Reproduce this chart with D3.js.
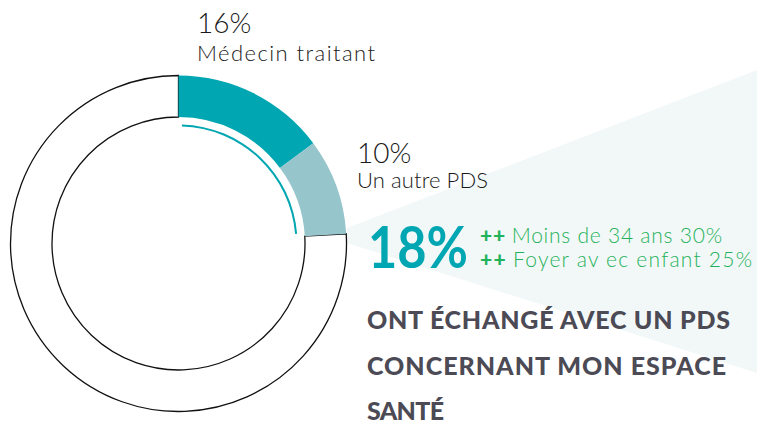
<!DOCTYPE html>
<html>
<head>
<meta charset="utf-8">
<script src="https://cdn.jsdelivr.net/npm/d3@7"></script>
<style>
  html, body { margin: 0; padding: 0; background: #fff; }
  svg { display: block; }
  text { font-family: "Lato", "Noto Sans", sans-serif; }
</style>
</head>
<body>
<svg id="chart"></svg>
<script>
var width = 757;
var height = 426;

// data
var categories = ["Médecin traitant", "Un autre PDS"];
var values = [16, 10];
var totalValue = 18;
var subgroups = ["++ Moins de 34 ans 30%", "++ Foyer av ec enfant 25%"];
var captionLines = ["ONT ÉCHANGÉ AVEC UN PDS", "CONCERNANT MON ESPACE", "SANTÉ"];

var colors = ["#00a6b1", "#96c5cc"];

var svg = d3.select("#chart").attr("width", width).attr("height", height);

var cx = 178.5, cy = 243.5;
var outerR = 168, innerR = 126.5;

// angle scale (the donut in the source is drawn on a ~108 base)
var angle = d3.scaleLinear().domain([0, 108]).range([0, 2 * Math.PI]);

// light wedge behind the text
svg.append("path")
    .attr("d", "M347,228 L757,70 L757,373 L347,243 Z")
    .attr("fill", "#f2f8f8");

var g = svg.append("g").attr("transform", "translate(" + cx + "," + cy + ")");

var arc = d3.arc().innerRadius(innerR).outerRadius(outerR);

var cum = 0;
var segs = values.map(function(v, i) {
    var s = {start: angle(cum), end: angle(cum + v), color: colors[i]};
    cum += v;
    return s;
});

// remainder of the ring, white with outline
g.append("path")
    .attr("d", arc({startAngle: angle(cum), endAngle: 2 * Math.PI}))
    .attr("fill", "#fff")
    .attr("stroke", "#111")
    .attr("stroke-width", 1.3);

g.selectAll("path.seg")
    .data(segs)
    .enter()
    .append("path")
    .attr("class", "seg")
    .attr("d", function(d) { return arc({startAngle: d.start, endAngle: d.end}); })
    .attr("fill", function(d) { return d.color; });

// thin inner arc spanning both segments
g.append("path")
    .attr("d", d3.arc().innerRadius(117).outerRadius(119)({startAngle: angle(0.5), endAngle: angle(cum - 0.4)}))
    .attr("fill", colors[0]);

// segment labels
var labelPos = [{x: 197, y1: 33, y2: 61}, {x: 357, y1: 163, y2: 188}];
values.forEach(function(v, i) {
    var p = labelPos[i];
    svg.append("text")
        .attr("x", p.x).attr("y", p.y1)
        .attr("font-size", 28).attr("font-weight", 300)
        .attr("fill", "#1a1a1a")
        .text(v + "%");
    svg.append("text")
        .attr("x", p.x).attr("y", p.y2)
        .attr("font-size", 22).attr("font-weight", 300)
        .attr("fill", "#1a1a1a")
        .attr("textLength", i == 0 ? 178 : 131)
        .attr("lengthAdjust", "spacing")
        .text(categories[i]);
});

// big total
svg.append("text")
    .attr("x", 368).attr("y", 268)
    .attr("font-size", 58).attr("font-weight", 700)
    .attr("fill", colors[0])
    .attr("textLength", 100)
    .attr("lengthAdjust", "spacingAndGlyphs")
    .text(totalValue + "%");

subgroups.forEach(function(t, i) {
    var parts = t.split(" ");
    var txt = svg.append("text")
        .attr("x", 480).attr("y", 243 + i * 24)
        .attr("font-size", 21)
        .attr("fill", "#1fb25a")
        .attr("textLength", i == 0 ? 242 : 272)
        .attr("lengthAdjust", "spacing");
    txt.append("tspan").attr("font-weight", 900).text(parts[0] + " ");
    txt.append("tspan").attr("font-weight", 300).text(parts.slice(1).join(" "));
});

var capWidths = [363, 359, 77];
captionLines.forEach(function(t, i) {
    svg.append("text")
        .attr("x", 367).attr("y", 329 + i * 45.5)
        .attr("font-size", 25).attr("font-weight", 900)
        .attr("fill", "#4b4a55")
        .attr("textLength", capWidths[i])
        .attr("lengthAdjust", "spacing")
        .text(t);
});
</script>
</body>
</html>
